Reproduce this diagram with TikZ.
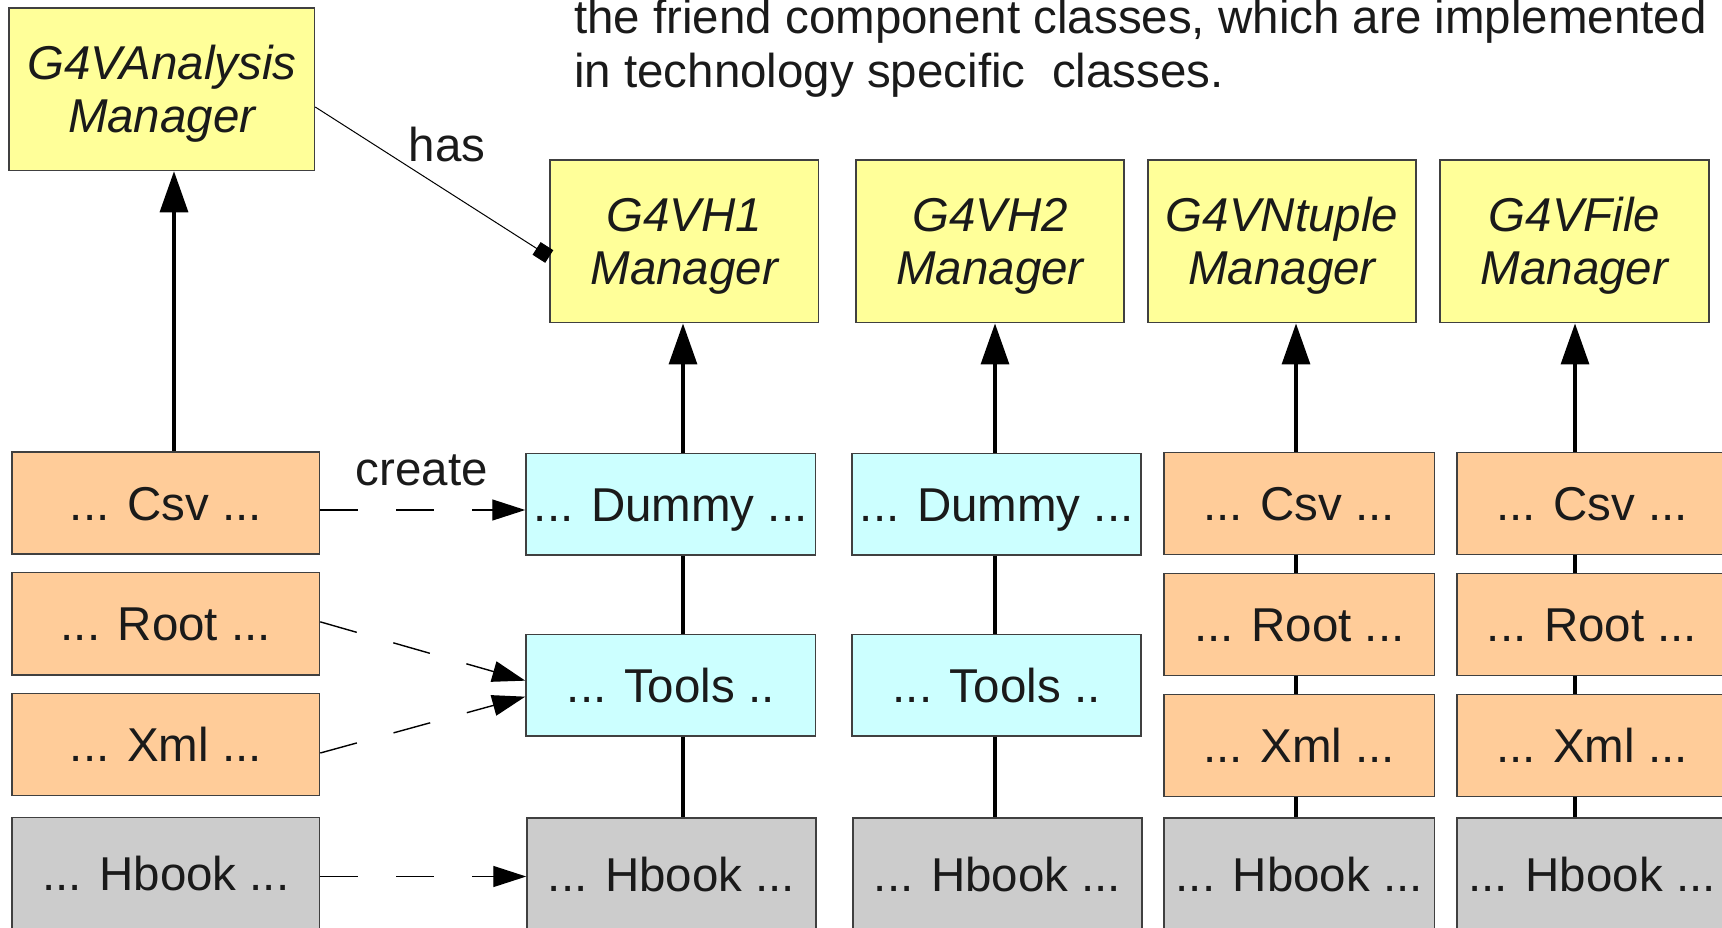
\documentclass[tikz,border=0pt]{standalone}
\usepackage{fontspec}
\setmainfont{Liberation Sans}
\usetikzlibrary{arrows.meta}
\definecolor{ylw}{HTML}{FFFF99}
\definecolor{org}{HTML}{FFCC99}
\definecolor{cyn}{HTML}{CCFFFF}
\definecolor{gry}{HTML}{CCCCCC}
\definecolor{bord}{HTML}{404040}
\definecolor{txt}{HTML}{1A1A1A}
\newcommand\mgrstrut{\rule{0pt}{43pt}}
\begin{document}
\begin{tikzpicture}[x=1pt,y=-1pt,
  font=\fontsize{47.5}{54}\selectfont, text=txt,
  box/.style={draw=bord, line width=1.5pt, inner sep=0pt, text height=34pt, text depth=0pt},
  mgr/.style={draw=bord, line width=1.5pt, fill=ylw, inner sep=0pt, align=center,
    font=\fontsize{47.5}{53}\selectfont\itshape},
  cls/.style={box, fill=org},
  dmy/.style={box, fill=cyn},
  hbk/.style={box, fill=gry},
  up/.style={line width=3.2pt, -{Triangle[length=41pt,width=28pt]}},
  link/.style={line width=3.2pt},
  crt/.style={line width=1.4pt, dash pattern=on 38pt off 38pt, -{Triangle[length=33pt,width=21pt]}},
  hasl/.style={line width=1pt, -{Rectangle[length=15pt,width=15pt]}},
  lbl/.style={inner sep=0pt, anchor=base}
]
\useasboundingbox (0,0) rectangle (1722,927);

% top text
\node[inner sep=0pt, anchor=base west] (t1) at (574,33.3) {the friend component classes, which are implemented};
\node[inner sep=0pt, anchor=base west] (t2) at (574,87.3) {in technology specific~ classes.};

% managers
\node[mgr, minimum width=305.5pt, minimum height=162.5pt] (am) at (161.75,89.25) {\mgrstrut G4VAnalysis\\Manager};
\node[mgr, minimum width=268.5pt, minimum height=162.7pt] (h1m) at (684.25,241.35) {\mgrstrut G4VH1\\Manager};
\node[mgr, minimum width=268pt, minimum height=162.7pt] (h2m) at (990,241.35) {\mgrstrut G4VH2\\Manager};
\node[mgr, minimum width=268pt, minimum height=162.7pt] (ntm) at (1282,241.35) {\mgrstrut G4VNtuple\\Manager};
\node[mgr, minimum width=269pt, minimum height=162.7pt] (fm) at (1574.5,241.35) {\mgrstrut G4VFile\\Manager};

% left column
\node[cls, minimum width=307.5pt, minimum height=102pt] (csvL) at (165.75,503) {... Csv ...};
\node[cls, minimum width=307.5pt, minimum height=102.3pt] (rootL) at (165.75,623.85) {... Root ...};
\node[cls, minimum width=307.5pt, minimum height=102.2pt] (xmlL) at (165.75,744.6) {... Xml ...};
\node[hbk, minimum width=307.5pt, minimum height=112pt] (hbookL) at (165.75,873.5) {... Hbook ...};

% column 1
\node[dmy, minimum width=289.5pt, minimum height=101.7pt] (dummy1) at (670.75,504.15) {... Dummy ...};
\node[dmy, minimum width=289.5pt, minimum height=101.7pt] (tools1) at (670.75,685.15) {... Tools ..};
\node[hbk, minimum width=289pt, minimum height=112pt] (hbook1) at (671.5,874.15) {... Hbook ...};

% column 2
\node[dmy, minimum width=288.8pt, minimum height=101.7pt] (dummy2) at (996.6,504.15) {... Dummy ...};
\node[dmy, minimum width=288.8pt, minimum height=101.7pt] (tools2) at (996.6,685.15) {... Tools ..};
\node[hbk, minimum width=288.8pt, minimum height=112pt] (hbook2) at (997.5,874.15) {... Hbook ...};

% column 3
\node[cls, minimum width=270.5pt, minimum height=102pt] (csvN) at (1299.25,503.7) {... Csv ...};
\node[cls, minimum width=270.5pt, minimum height=102pt] (rootN) at (1299.25,624.7) {... Root ...};
\node[cls, minimum width=270.5pt, minimum height=101.6pt] (xmlN) at (1299.25,745.5) {... Xml ...};
\node[hbk, minimum width=270.5pt, minimum height=112pt] (hbookN) at (1299.25,874) {... Hbook ...};

% column 4
\node[cls, minimum width=270.5pt, minimum height=102pt] (csvF) at (1592,503.7) {... Csv ...};
\node[cls, minimum width=270.5pt, minimum height=102pt] (rootF) at (1592,624.7) {... Root ...};
\node[cls, minimum width=270.5pt, minimum height=101.6pt] (xmlF) at (1592,745.5) {... Xml ...};
\node[hbk, minimum width=270.5pt, minimum height=112pt] (hbookF) at (1592,874) {... Hbook ...};

% axes for vertical connectors
\coordinate (ax0) at (174,0);
\coordinate (ax1) at (683,0);
\coordinate (ax2) at (995,0);
\coordinate (ax3) at (1296,0);
\coordinate (ax4) at (1575,0);

% inheritance arrows
\draw[up] (csvL.north -| ax0) -- (am.south -| ax0);
\draw[up] (dummy1.north -| ax1) -- (h1m.south -| ax1);
\draw[up] (dummy2.north -| ax2) -- (h2m.south -| ax2);
\draw[up] (csvN.north -| ax3) -- (ntm.south -| ax3);
\draw[up] (csvF.north -| ax4) -- (fm.south -| ax4);

% vertical links
\draw[link] (dummy1.south -| ax1) -- (tools1.north -| ax1);
\draw[link] (tools1.south -| ax1) -- (hbook1.north -| ax1);
\draw[link] (dummy2.south -| ax2) -- (tools2.north -| ax2);
\draw[link] (tools2.south -| ax2) -- (hbook2.north -| ax2);
\draw[link] (csvN.south -| ax3) -- (rootN.north -| ax3);
\draw[link] (rootN.south -| ax3) -- (xmlN.north -| ax3);
\draw[link] (xmlN.south -| ax3) -- (hbookN.north -| ax3);
\draw[link] (csvF.south -| ax4) -- (rootF.north -| ax4);
\draw[link] (rootF.south -| ax4) -- (xmlF.north -| ax4);
\draw[link] (xmlF.south -| ax4) -- (hbookF.north -| ax4);

% create arrows
\draw[crt] ([yshift=-7pt]csvL.east) -- ([yshift=-7pt]csvL.east -| dummy1.west);
\draw[crt] ([yshift=2pt]rootL.east) -- ([yshift=4.5pt]tools1.west);
\draw[crt] ([yshift=-8.4pt]xmlL.east) -- ([yshift=-11.5pt]tools1.west);
\draw[crt] ([yshift=-3pt]hbookL.east) -- ([yshift=-3pt]hbookL.east -| hbook1.west);

% has
\draw[hasl] ([yshift=-17.75pt]am.east) -- ([yshift=-15.15pt]h1m.west);

% labels
\node[lbl] (hasT) at (447,161.7) {has};
\node[lbl] (createT) at (422,485) {create};
\end{tikzpicture}
\end{document}
